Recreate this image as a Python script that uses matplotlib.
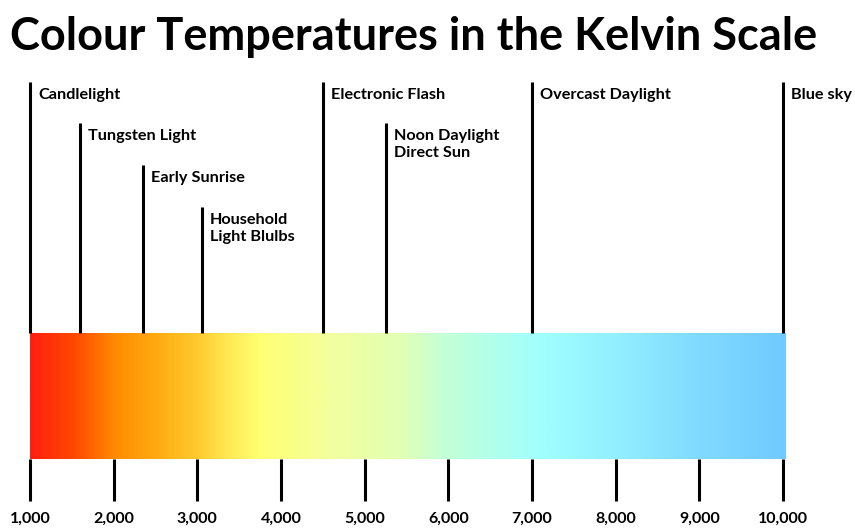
import matplotlib
matplotlib.use('Agg')
import matplotlib.pyplot as plt
import numpy as np
from matplotlib.colors import LinearSegmentedColormap

# Light sources and their colour temperature (K)
sources = ['Candlelight', 'Tungsten Light', 'Early Sunrise', 'Household\nLight Blulbs',
           'Electronic Flash', 'Noon Daylight\nDirect Sun', 'Overcast Daylight', 'Blue sky']
kelvin = [1000, 1600, 2350, 3050, 4500, 5250, 7000, 10000]
row = [0, 1, 2, 3, 0, 1, 0, 0]

# Scale ticks
ticks = [1000, 2000, 3000, 4000, 5000, 6000, 7000, 8000, 9000, 10000]
tick_labels = ['1,000', '2,000', '3,000', '4,000', '5,000', '6,000', '7,000', '8,000', '9,000', '10,000']

# Gradient colour stops (K, colour)
stop_k = [1000, 1500, 2000, 2500, 3000, 3300, 3700, 4600, 5400, 5900, 7100, 8050, 9000, 10000]
stop_c = ['#ff2010', '#ff4800', '#ff8c00', '#ffab12', '#ffcc30', '#ffe550', '#ffff70', '#f2ffa0',
          '#e2ffb4', '#c6ffd6', '#a0ffff', '#90eeff', '#80daff', '#70caff']

W, H = 855, 529
fig = plt.figure(figsize=(W / 100, H / 100), dpi=100)
ax = fig.add_axes([0, 0, 1, 1])
px = 83.67 / 1000  # pixels per kelvin
ax.set_xlim(1000 - 30 / px, 1000 + (W - 30) / px)
ax.set_ylim(H, 0)
ax.axis('off')

font = 'Lato'

fig.text(0.012, 0.93, 'Colour Temperatures in the Kelvin Scale', fontsize=32.5,
         family=font, weight='bold', ha='left', va='center')

# gradient bar
pos = [(k - stop_k[0]) / (stop_k[-1] - stop_k[0]) for k in stop_k]
cmap = LinearSegmentedColormap.from_list('kelvin', list(zip(pos, stop_c)))
grad = np.linspace(0, 1, 600).reshape(1, -1)
bar_top, bar_bot = 333, 459
ax.imshow(grad, cmap=cmap, aspect='auto', extent=[ticks[0], ticks[-1] + 25, bar_bot, bar_top],
          zorder=1, interpolation='bilinear')

# marker lines + labels
tops = [82, 123, 165, 207]
for name, k, r in zip(sources, kelvin, row):
    ax.vlines(k, tops[r], bar_top, color='black', lw=2.2, zorder=2)
    ax.text(k + 8 / px, tops[r] + 6, name, fontsize=11.7, family=font, weight='bold',
            ha='left', va='top', linespacing=1.25)

# bottom ticks
ax.vlines(ticks, bar_bot, 501, color='black', lw=2.2)
for t, lab in zip(ticks, tick_labels):
    ax.text(t, 519, lab, fontsize=11.5, family=font, weight='bold', ha='center', va='center')

fig.savefig('out.png', dpi=100)
